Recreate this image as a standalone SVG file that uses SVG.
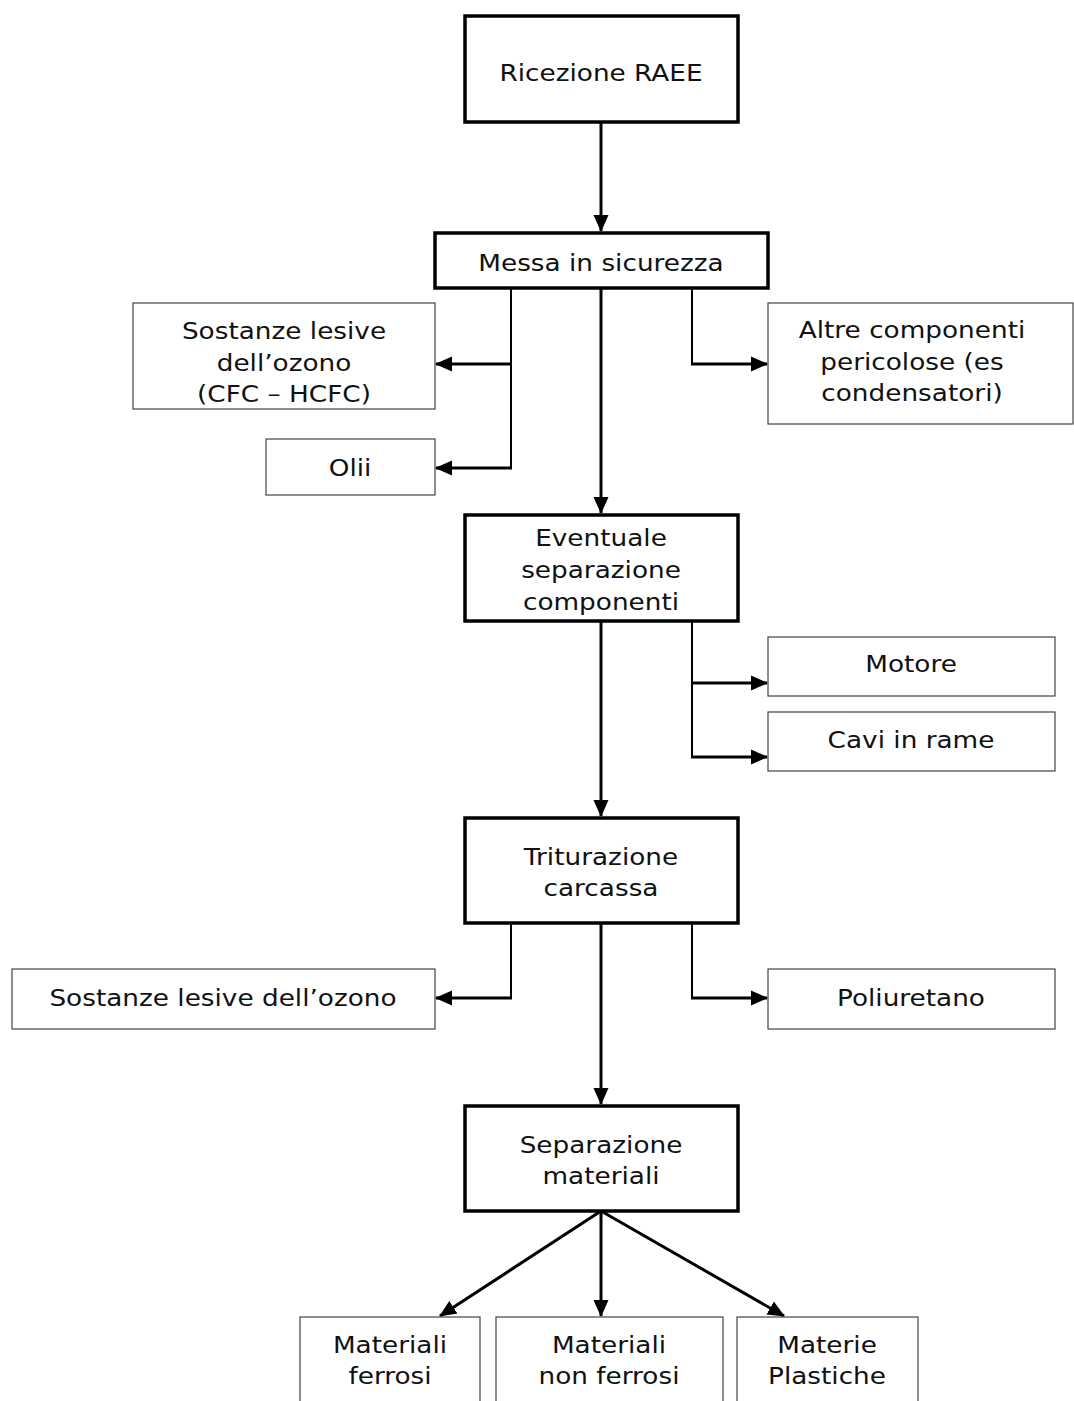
<svg xmlns="http://www.w3.org/2000/svg" width="1074" height="1401" viewBox="0 0 1074 1401">
<style>
.main{fill:#fff;stroke:#000;stroke-width:3.5}
.side{fill:#fff;stroke:#444;stroke-width:1.2}
text{font-family:"DejaVu Sans",Verdana,sans-serif;font-size:23.5px;fill:#111;text-anchor:middle}
.c{fill:none;stroke:#000;stroke-width:3}
.b{fill:none;stroke:#000;stroke-width:2}
</style>
<defs>
<marker id="ah" markerUnits="userSpaceOnUse" markerWidth="17" markerHeight="17" viewBox="0 0 17 17" refX="16" refY="8.5" orient="auto">
<path d="M0,1 L17,8.5 L0,16 Z" fill="#000"/>
</marker>
</defs>
<rect width="1074" height="1401" fill="#fff"/>
<g id="connectors">
<line class="c" x1="601" y1="122" x2="601" y2="231" marker-end="url(#ah)"/>
<line class="c" x1="601" y1="288" x2="601" y2="513" marker-end="url(#ah)"/>
<polyline class="b" points="511,288 511,468"/>
<line class="c" x1="512" y1="364" x2="436" y2="364" marker-end="url(#ah)"/>
<line class="c" x1="512" y1="468" x2="436" y2="468" marker-end="url(#ah)"/>
<polyline class="b" points="692,288 692,364"/>
<line class="c" x1="691" y1="364" x2="767" y2="364" marker-end="url(#ah)"/>
<polyline class="b" points="692,621 692,757"/>
<line class="c" x1="691" y1="683" x2="767" y2="683" marker-end="url(#ah)"/>
<line class="c" x1="691" y1="757" x2="767" y2="757" marker-end="url(#ah)"/>
<line class="c" x1="601" y1="621" x2="601" y2="816" marker-end="url(#ah)"/>
<polyline class="b" points="511,923 511,998"/>
<line class="c" x1="512" y1="998" x2="436" y2="998" marker-end="url(#ah)"/>
<polyline class="b" points="692,923 692,998"/>
<line class="c" x1="691" y1="998" x2="767" y2="998" marker-end="url(#ah)"/>
<line class="c" x1="601" y1="923" x2="601" y2="1104" marker-end="url(#ah)"/>
<line class="c" x1="601" y1="1211" x2="440" y2="1316" marker-end="url(#ah)"/>
<line class="c" x1="601" y1="1211" x2="601" y2="1316" marker-end="url(#ah)"/>
<line class="c" x1="601" y1="1211" x2="784" y2="1316" marker-end="url(#ah)"/>
</g>
<g id="ricezione"><rect class="main" x="465" y="16" width="273" height="106"/><text transform="translate(601 81) scale(1.12 1)">Ricezione RAEE</text></g>
<g id="messa"><rect class="main" x="435" y="233" width="333" height="55"/><text transform="translate(601 271) scale(1.12 1)">Messa in sicurezza</text></g>
<g id="sostanze1"><rect class="side" x="133" y="303" width="302" height="106"/><text transform="translate(284 339) scale(1.12 1)">Sostanze lesive</text><text transform="translate(284 371) scale(1.12 1)">dell’ozono</text><text transform="translate(284 402) scale(1.12 1)">(CFC – HCFC)</text></g>
<g id="olii"><rect class="side" x="266" y="439" width="169" height="56"/><text transform="translate(350 476) scale(1.12 1)">Olii</text></g>
<g id="altre"><rect class="side" x="768" y="303" width="305" height="121"/><text transform="translate(912 338) scale(1.12 1)">Altre componenti</text><text transform="translate(912 370) scale(1.12 1)">pericolose (es</text><text transform="translate(912 401) scale(1.12 1)">condensatori)</text></g>
<g id="eventuale"><rect class="main" x="465" y="515" width="273" height="106"/><text transform="translate(601 546) scale(1.12 1)">Eventuale</text><text transform="translate(601 578) scale(1.12 1)">separazione</text><text transform="translate(601 610) scale(1.12 1)">componenti</text></g>
<g id="motore"><rect class="side" x="768" y="637" width="287" height="59"/><text transform="translate(911 672) scale(1.12 1)">Motore</text></g>
<g id="cavi"><rect class="side" x="768" y="712" width="287" height="59"/><text transform="translate(911 748) scale(1.12 1)">Cavi in rame</text></g>
<g id="triturazione"><rect class="main" x="465" y="818" width="273" height="105"/><text transform="translate(601 865) scale(1.12 1)">Triturazione</text><text transform="translate(601 896) scale(1.12 1)">carcassa</text></g>
<g id="sostanze2"><rect class="side" x="12" y="969" width="423" height="60"/><text transform="translate(223 1006) scale(1.12 1)">Sostanze lesive dell’ozono</text></g>
<g id="poliuretano"><rect class="side" x="768" y="969" width="287" height="60"/><text transform="translate(911 1006) scale(1.12 1)">Poliuretano</text></g>
<g id="separazione"><rect class="main" x="465" y="1106" width="273" height="105"/><text transform="translate(601 1153) scale(1.12 1)">Separazione</text><text transform="translate(601 1184) scale(1.12 1)">materiali</text></g>
<g id="ferrosi"><rect class="side" x="300" y="1317" width="180" height="100"/><text transform="translate(390 1353) scale(1.12 1)">Materiali</text><text transform="translate(390 1384) scale(1.12 1)">ferrosi</text></g>
<g id="nonferrosi"><rect class="side" x="496" y="1317" width="227" height="100"/><text transform="translate(609 1353) scale(1.12 1)">Materiali</text><text transform="translate(609 1384) scale(1.12 1)">non ferrosi</text></g>
<g id="plastiche"><rect class="side" x="737" y="1317" width="181" height="100"/><text transform="translate(827 1353) scale(1.12 1)">Materie</text><text transform="translate(827 1384) scale(1.12 1)">Plastiche</text></g>
</svg>
